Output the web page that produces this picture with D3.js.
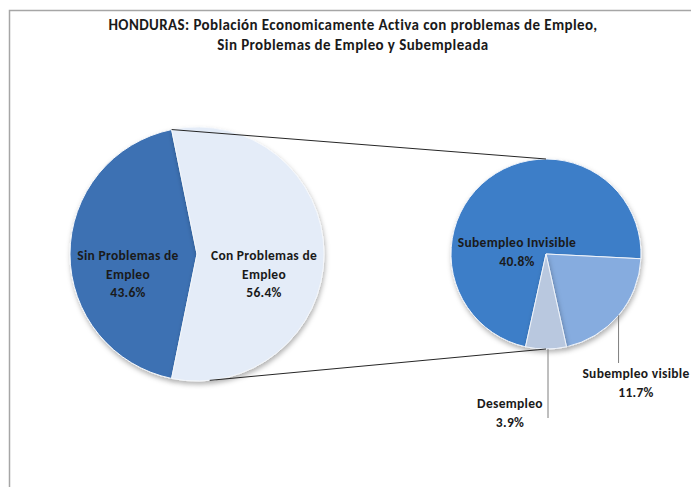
<!DOCTYPE html>
<html>
<head>
<meta charset="utf-8">
<script src="https://d3js.org/d3.v7.min.js"></script>
<style>
  body { margin: 0; background: #fff; }
  svg text { font-family: Carlito, Calibri, Lato, "Open Sans", sans-serif; fill: #1a1a1a; }
</style>
</head>
<body>
<svg id="chart" width="691" height="487"></svg>
<script>
// data
var titleLines = ["HONDURAS: Población Economicamente Activa con problemas de Empleo,",
                  "Sin Problemas de Empleo y Subempleada"];
var mainNames = ["Sin Problemas de Empleo", "Con Problemas de Empleo"];
var mainValues = [43.6, 56.4];
var mainLabelLines = [["Sin Problemas de", "Empleo"], ["Con Problemas de", "Empleo"]];
var subNames = ["Subempleo Invisible", "Subempleo visible", "Desempleo"];
var subValues = [40.8, 11.7, 3.9];

var svg = d3.select("#chart");
var defs = svg.append("defs");

// chart frame (runs off the right and bottom like the screenshot)
svg.append("path")
    .attr("d", "M9.5,700 L9.5,10.5 L700,10.5")
    .attr("fill", "none")
    .attr("stroke", "#a6a6a6")
    .attr("stroke-width", 1.5);

// title
svg.selectAll(".title")
  .data(titleLines)
  .enter().append("text")
    .attr("class", "title")
    .attr("x", 353)
    .attr("y", function(d, i) { return 30 + i * 20; })
    .attr("text-anchor", "middle")
    .style("font-size", "15px")
    .style("letter-spacing", "0.4px")
    .style("font-weight", "bold")
    .text(function(d) { return d; });

// geometry
var left = {cx: 197, cy: 254, r: 127},
    right = {cx: 546, cy: 254, r: 95};

function grad(id, top, bottom, c) {
  var g = defs.append("linearGradient")
      .attr("id", id)
      .attr("gradientUnits", "userSpaceOnUse")
      .attr("x1", 0).attr("x2", 0)
      .attr("y1", c.cy - c.r).attr("y2", c.cy + c.r);
  g.append("stop").attr("offset", "0%").attr("stop-color", top);
  g.append("stop").attr("offset", "100%").attr("stop-color", bottom);
}
grad("gSin", "#3d71b3", "#264a7c", left);
grad("gCon", "#e4ecf8", "#b2b8c3", left);
grad("gInv", "#3e7ec8", "#30609f", right);
grad("gVis", "#86acdf", "#5a7db2", right);
grad("gDes", "#b9c8df", "#8d9fbb", right);

var shadow = defs.append("filter").attr("id", "shadow")
    .attr("x", "-20%").attr("y", "-20%").attr("width", "140%").attr("height", "140%");
shadow.append("feDropShadow")
    .attr("dx", 1).attr("dy", 3).attr("stdDeviation", 2.5)
    .attr("flood-color", "#000").attr("flood-opacity", 0.3);

// primary pie: the "con problemas" slice is centred on the right side
var mainTotal = d3.sum(mainValues);
var conSpan = 2 * Math.PI * mainValues[1] / mainTotal;
var mainPie = d3.pie().sort(null)
    .startAngle(Math.PI / 2 + conSpan / 2)
    .endAngle(Math.PI / 2 + conSpan / 2 + 2 * Math.PI);
var mainArcs = mainPie(mainValues);

var arcL = d3.arc().innerRadius(0).outerRadius(left.r);
var gl = svg.append("g")
    .attr("transform", "translate(" + left.cx + "," + left.cy + ")");

gl.selectAll(".slice")
  .data(mainArcs)
  .enter().append("path")
    .attr("class", "slice")
    .attr("d", arcL)
    .attr("fill", function(d, i) { return i === 0 ? "url(#gSin)" : "url(#gCon)"; })
    .attr("stroke", "#f4f7fb")
    .attr("stroke-width", 1)
    .attr("filter", "url(#shadow)");

// secondary pie
var subTotal = d3.sum(subValues);
var desSpan = 2 * Math.PI * subValues[2] / subTotal;
var subPie = d3.pie().sort(null)
    .startAngle(Math.PI + desSpan / 2)
    .endAngle(Math.PI + desSpan / 2 + 2 * Math.PI);
var subArcs = subPie(subValues);
var arcR = d3.arc().innerRadius(0).outerRadius(right.r);
var subFills = ["url(#gInv)", "url(#gVis)", "url(#gDes)"];

var gr = svg.append("g")
    .attr("transform", "translate(" + right.cx + "," + right.cy + ")");

gr.selectAll(".slice")
  .data(subArcs)
  .enter().append("path")
    .attr("class", "slice")
    .attr("d", arcR)
    .attr("fill", function(d, i) { return subFills[i]; })
    .attr("stroke", "#eef3fa")
    .attr("stroke-width", 1)
    .attr("filter", "url(#shadow)");

// connector lines between the pies
function pt(c, a) { return [c.cx + c.r * Math.sin(a), c.cy - c.r * Math.cos(a)]; }
var conArc = mainArcs[1];
var t0 = pt(left, conArc.startAngle - 2 * Math.PI), t1 = pt(right, 0);
var b0 = pt(left, Math.PI - 0.1), b1 = pt(right, Math.PI);
svg.append("line")
    .attr("x1", t0[0]).attr("y1", t0[1]).attr("x2", t1[0]).attr("y2", t1[1])
    .attr("stroke", "#262626").attr("stroke-width", 1);
svg.append("line")
    .attr("x1", b0[0]).attr("y1", b0[1]).attr("x2", b1[0]).attr("y2", b1[1])
    .attr("stroke", "#262626").attr("stroke-width", 1);

// labels on primary pie
var lblFont = "13.5px";
mainArcs.forEach(function(d, i) {
  var lx = i === 0 ? left.cx - 69 : left.cx + 67;
  var lines = mainLabelLines[i].concat([d3.format(".1f")(mainValues[i]) + "%"]);
  svg.append("text")
      .attr("x", lx)
      .attr("y", left.cy + 6)
      .attr("text-anchor", "middle")
      .style("font-size", lblFont)
      .style("letter-spacing", "0.3px")
      .style("font-weight", "bold")
    .selectAll("tspan")
    .data(lines)
    .enter().append("tspan")
      .attr("x", lx)
      .attr("dy", function(t, j) { return j === 0 ? 0 : 18.5; })
      .text(function(t) { return t; });
});

// labels on secondary pie
function subLabel(i, x, y) {
  svg.append("text")
      .attr("x", x).attr("y", y)
      .attr("text-anchor", "middle")
      .style("font-size", lblFont)
      .style("letter-spacing", "0.3px")
      .style("font-weight", "bold")
    .selectAll("tspan")
    .data([subNames[i], d3.format(".1f")(subValues[i]) + "%"])
    .enter().append("tspan")
      .attr("x", x)
      .attr("dy", function(t, j) { return j === 0 ? 0 : 19; })
      .text(function(t) { return t; });
}
subLabel(0, 517, 247);
subLabel(1, 636, 378);
subLabel(2, 510, 408);

// leader lines for outside labels
var visMid = (subArcs[1].startAngle + subArcs[1].endAngle) / 2;
var vp = pt(right, visMid);
svg.append("line")
    .attr("x1", vp[0]).attr("y1", vp[1]).attr("x2", vp[0]).attr("y2", 363)
    .attr("stroke", "#7f7f7f").attr("stroke-width", 1);
var dp = pt(right, (subArcs[2].startAngle + subArcs[2].endAngle) / 2);
svg.append("line")
    .attr("x1", dp[0] + 2).attr("y1", dp[1]).attr("x2", dp[0] + 2).attr("y2", 418)
    .attr("stroke", "#7f7f7f").attr("stroke-width", 1);
</script>
</body>
</html>
